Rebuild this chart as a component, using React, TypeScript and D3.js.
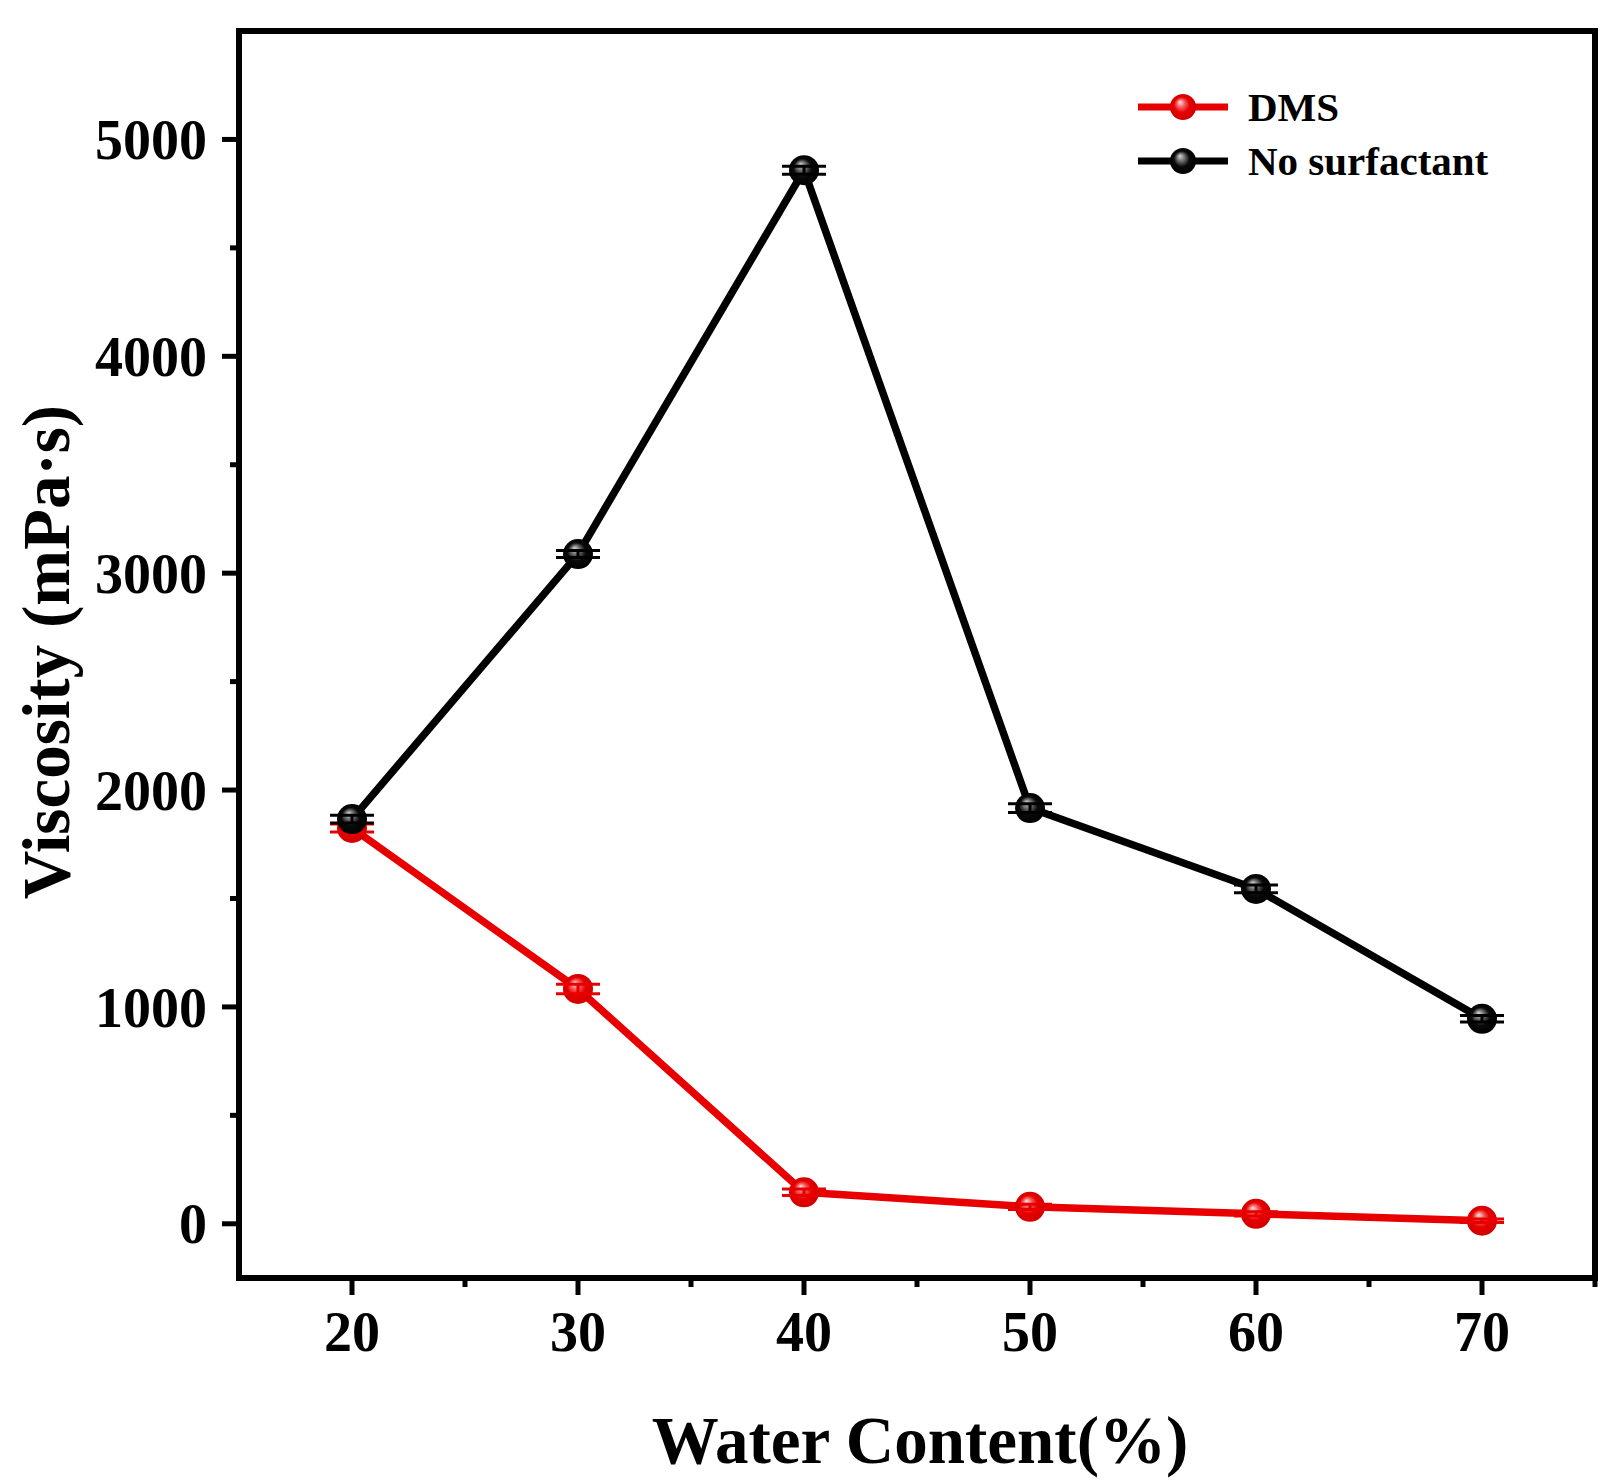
import * as d3 from "d3";

// water content (%)
const waterContent = [20, 30, 40, 50, 60, 70];
// viscosity (mPa·s)
const dmsValues = [1825, 1083, 145, 78, 46, 14];
const dmsErrors = [18, 22, 15, 12, 10, 8];
const noSurfValues = [1866, 3088, 4858, 1917, 1544, 945];
const noSurfErrors = [18, 16, 18, 20, 18, 15];

const xTicks = [20, 30, 40, 50, 60, 70];
const xMinorTicks = [25, 35, 45, 55, 65, 75];
const yTicks = [0, 1000, 2000, 3000, 4000, 5000];
const yMinorTicks = [500, 1500, 2500, 3500, 4500];

const seriesNames = ["DMS", "No surfactant"];

const W = 1624;
const H = 1484;
const frame = { left: 239, right: 1595, top: 31, bottom: 1278 };
const FONT = "'Liberation Serif', 'Times New Roman', serif";

const RED = "#e80000";
const BLACK = "#000000";

const x = d3.scaleLinear().domain([15, 75]).range([frame.left, frame.right]);
const y = d3.scaleLinear().domain([-250, 5500]).range([frame.bottom, frame.top]);

const line = d3
  .line<[number, number]>()
  .x((d) => x(d[0]))
  .y((d) => y(d[1]));

function Series({
  values,
  errors,
  color,
  grad,
}: {
  values: number[];
  errors: number[];
  color: string;
  grad: string;
}) {
  const pts = waterContent.map((w, i) => [w, values[i]] as [number, number]);
  return (
    <g>
      <path d={line(pts) ?? ""} fill="none" stroke={color} strokeWidth={7.5} strokeLinejoin="round" />
      {pts.map(([w, v], i) => {
        const cx = x(w);
        const yHi = y(v + errors[i]);
        const yLo = y(v - errors[i]);
        return (
          <g key={i}>
            <circle cx={cx} cy={y(v)} r={15} fill={`url(#${grad})`} />
            <line x1={cx} x2={cx} y1={yHi} y2={yLo} stroke={color} strokeWidth={3} />
            <line x1={cx - 22} x2={cx + 22} y1={yHi} y2={yHi} stroke={color} strokeWidth={3} />
            <line x1={cx - 22} x2={cx + 22} y1={yLo} y2={yLo} stroke={color} strokeWidth={3} />
          </g>
        );
      })}
    </g>
  );
}

export default function App() {
  const legend = [
    { name: seriesNames[0], color: RED, grad: "gRed", y: 107 },
    { name: seriesNames[1], color: BLACK, grad: "gBlack", y: 161 },
  ];

  return (
    <svg
      width={W}
      height={H}
      style={{ position: "absolute", left: 0, top: 0, background: "#fff" }}
      fontFamily={FONT}
      fontWeight="bold"
    >
      <defs>
        <radialGradient id="gRed" cx="0.5" cy="0.5" r="0.5" fx="0.38" fy="0.3">
          <stop offset="0" stopColor="#ffe6e6" />
          <stop offset="0.3" stopColor="#f36060" />
          <stop offset="0.6" stopColor={RED} />
          <stop offset="1" stopColor="#d00000" />
        </radialGradient>
        <radialGradient id="gBlack" cx="0.5" cy="0.5" r="0.5" fx="0.38" fy="0.3">
          <stop offset="0" stopColor="#d8d8d8" />
          <stop offset="0.3" stopColor="#707070" />
          <stop offset="0.6" stopColor="#0a0a0a" />
          <stop offset="1" stopColor="#000" />
        </radialGradient>
      </defs>

      {/* data */}
      <Series values={dmsValues} errors={dmsErrors} color={RED} grad="gRed" />
      <Series values={noSurfValues} errors={noSurfErrors} color={BLACK} grad="gBlack" />

      {/* frame */}
      <rect
        x={frame.left}
        y={frame.top}
        width={frame.right - frame.left}
        height={frame.bottom - frame.top}
        fill="none"
        stroke="#000"
        strokeWidth={6}
      />

      {/* x ticks */}
      {xTicks.map((t) => (
        <g key={"x" + t}>
          <line x1={x(t)} x2={x(t)} y1={frame.bottom} y2={frame.bottom + 17} stroke="#000" strokeWidth={5} />
          <text x={x(t)} y={1351} textAnchor="middle" fontSize={56}>
            {t}
          </text>
        </g>
      ))}
      {xMinorTicks.map((t) => (
        <line key={"xm" + t} x1={x(t)} x2={x(t)} y1={frame.bottom} y2={frame.bottom + 9} stroke="#000" strokeWidth={5} />
      ))}

      {/* y ticks */}
      {yTicks.map((t) => (
        <g key={"y" + t}>
          <line x1={frame.left - 17} x2={frame.left} y1={y(t)} y2={y(t)} stroke="#000" strokeWidth={5} />
          <text x={207} y={y(t)} dy="0.35em" textAnchor="end" fontSize={56}>
            {t}
          </text>
        </g>
      ))}
      {yMinorTicks.map((t) => (
        <line key={"ym" + t} x1={frame.left - 9} x2={frame.left} y1={y(t)} y2={y(t)} stroke="#000" strokeWidth={5} />
      ))}

      {/* axis titles */}
      <text x={(frame.left + frame.right) / 2 + 3} y={1463} textAnchor="middle" fontSize={67}>
        Water Content(%)
      </text>
      <text
        transform={`translate(69, 652) rotate(-90)`}
        textAnchor="middle"
        fontSize={67}
      >
        Viscosity (mPa·s)
      </text>

      {/* legend */}
      {legend.map((l) => (
        <g key={l.name}>
          <line x1={1138} x2={1228} y1={l.y} y2={l.y} stroke={l.color} strokeWidth={7} />
          <circle cx={1183} cy={l.y} r={13} fill={`url(#${l.grad})`} />
          <text x={1248} y={l.y} dy="0.35em" fontSize={41}>
            {l.name}
          </text>
        </g>
      ))}
    </svg>
  );
}
